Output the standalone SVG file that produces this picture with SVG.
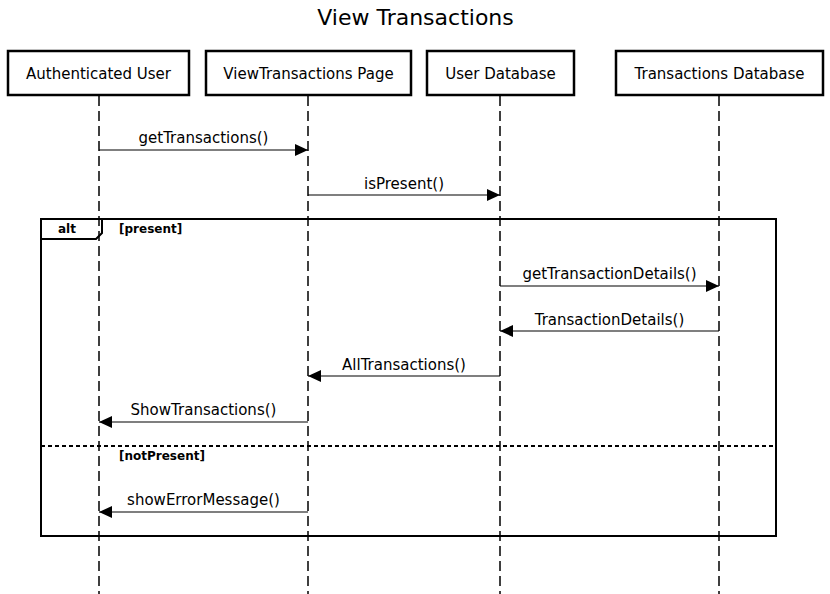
<svg xmlns="http://www.w3.org/2000/svg" width="830" height="594" viewBox="0 0 830 594">
<style>
text{font-family:"DejaVu Sans",sans-serif;fill:#000}
.box{fill:#fff;stroke:#000;stroke-width:2.5}
.lbl{font-size:15px;text-anchor:middle}
.life{stroke:#000;stroke-width:1.5;stroke-dasharray:10,5;fill:none}
.msg{stroke:#000;stroke-width:1.2;fill:none;marker-end:url(#arr)}
.cond{font-size:12px;font-weight:bold}
</style>
<defs>
<marker id="arr" viewBox="0 0 13 12" refX="13" refY="6" markerWidth="13" markerHeight="12" markerUnits="userSpaceOnUse" orient="auto">
<path d="M0,0 L13,6 L0,12 Z" fill="#000"/>
</marker>
</defs>
<rect width="830" height="594" fill="#fff"/>
<text x="415.5" y="25" font-size="22" text-anchor="middle">View Transactions</text>
<g id="lifelines">
<line class="life" x1="99" y1="96" x2="99" y2="594"/>
<line class="life" x1="308" y1="96" x2="308" y2="594"/>
<line class="life" x1="500" y1="96" x2="500" y2="594"/>
<line class="life" x1="719" y1="96" x2="719" y2="594"/>
</g>
<g id="node-user"><rect class="box" x="8" y="51" width="181" height="44"/><text class="lbl" x="98.5" y="79">Authenticated User</text></g>
<g id="node-page"><rect class="box" x="206" y="51" width="205" height="44"/><text class="lbl" x="308.5" y="79">ViewTransactions Page</text></g>
<g id="node-userdb"><rect class="box" x="427" y="51" width="147" height="44"/><text class="lbl" x="500.5" y="79">User Database</text></g>
<g id="node-txdb"><rect class="box" x="616" y="51" width="207" height="44"/><text class="lbl" x="719.5" y="79">Transactions Database</text></g>
<g id="alt-frame">
<rect x="41" y="219" width="735" height="317" fill="none" stroke="#000" stroke-width="2"/>
<path d="M41,239 L96,239 L102,233 L102,219" fill="none" stroke="#000" stroke-width="2"/>
<text class="cond" x="67" y="233" text-anchor="middle">alt</text>
<text class="cond" x="119" y="233">[present]</text>
<line x1="41" y1="446" x2="776" y2="446" stroke="#000" stroke-width="2" stroke-dasharray="4,3"/>
<text class="cond" x="119" y="460">[notPresent]</text>
</g>
<g id="connectors">
<line class="msg" x1="99" y1="150" x2="308" y2="150"/>
<text class="lbl" x="203.5" y="143">getTransactions()</text>
<line class="msg" x1="308" y1="195" x2="500" y2="195"/>
<text class="lbl" x="404" y="189">isPresent()</text>
<line class="msg" x1="500" y1="286" x2="719" y2="286"/>
<text class="lbl" x="609.5" y="279">getTransactionDetails()</text>
<line class="msg" x1="719" y1="331" x2="500" y2="331"/>
<text class="lbl" x="609.5" y="325">TransactionDetails()</text>
<line class="msg" x1="500" y1="376" x2="308" y2="376"/>
<text class="lbl" x="404" y="370">AllTransactions()</text>
<line class="msg" x1="308" y1="422" x2="99" y2="422"/>
<text class="lbl" x="203.5" y="415">ShowTransactions()</text>
<line class="msg" x1="308" y1="512" x2="99" y2="512"/>
<text class="lbl" x="203.5" y="505">showErrorMessage()</text>
</g>
</svg>
